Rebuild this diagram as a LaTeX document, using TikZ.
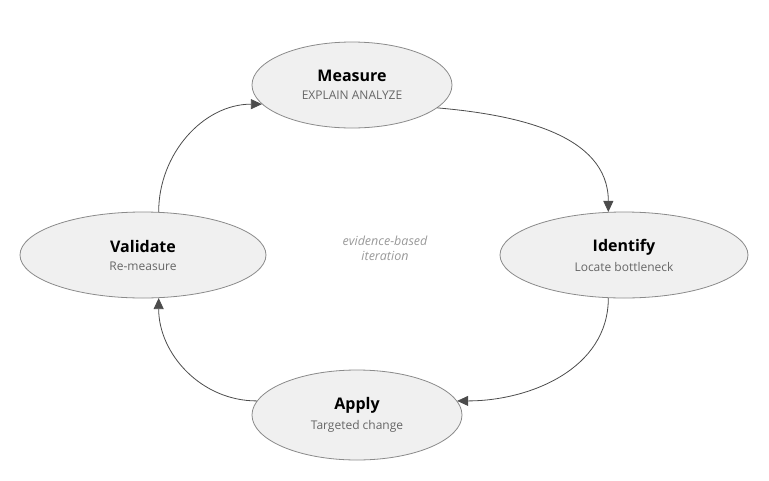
\documentclass[tikz,border=0pt]{standalone}
\usepackage{fontspec}
\setmainfont{Open Sans}
\usetikzlibrary{arrows.meta,shapes.geometric}
\definecolor{phasefill}{HTML}{F0F0F0}
\definecolor{phaseline}{HTML}{8A8A8A}
\begin{document}
\begin{tikzpicture}[y=-1pt,x=1pt]
	\tikzset{
		phase/.style={ellipse, draw=phaseline, fill=phasefill, line width=0.8pt, align=center, inner sep=0pt},
		loop/.style={draw=black!70, line width=0.8pt, -{Triangle[length=11pt,width=10pt]}}
	}
	\useasboundingbox (0,0) rectangle (769,480);

	\node[phase, minimum width=200pt, minimum height=86pt] (measure) at (352,85)
		{{\fontsize{16}{18}\selectfont\bfseries Measure}\\[6pt]{\fontsize{12}{14}\selectfont\color{black!60}EXPLAIN ANALYZE}};
	\node[phase, minimum width=248pt, minimum height=86pt] (identify) at (624,255)
		{{\fontsize{16}{18}\selectfont\bfseries Identify}\\[6pt]{\fontsize{12}{14}\selectfont\color{black!60}Locate bottleneck}};
	\node[phase, minimum width=210pt, minimum height=90pt] (apply) at (357,415)
		{{\fontsize{16}{18}\selectfont\bfseries Apply}\\[6pt]{\fontsize{12}{14}\selectfont\color{black!60}Targeted change}};
	\node[phase, minimum width=246pt, minimum height=86pt] (validate) at (143,255)
		{{\fontsize{16}{18}\selectfont\bfseries Validate}\\[6pt]{\fontsize{12}{14}\selectfont\color{black!60}Re-measure}};

	\node[align=center, font=\itshape\fontsize{12.5}{15}\selectfont, text=black!40] (core) at (385,248)
		{evidence-based\\iteration};

	% cycle
	\draw[loop] (measure.-15) to[out=-5,in=90] (identify.110);
	\draw[loop] (identify.-110) to[out=-90,in=0] (apply.8);
	\draw[loop] (apply.172) to[out=180,in=-90] (validate.-70);
	\draw[loop] (validate.70) to[out=90,in=180] (measure.192);
\end{tikzpicture}
\end{document}
